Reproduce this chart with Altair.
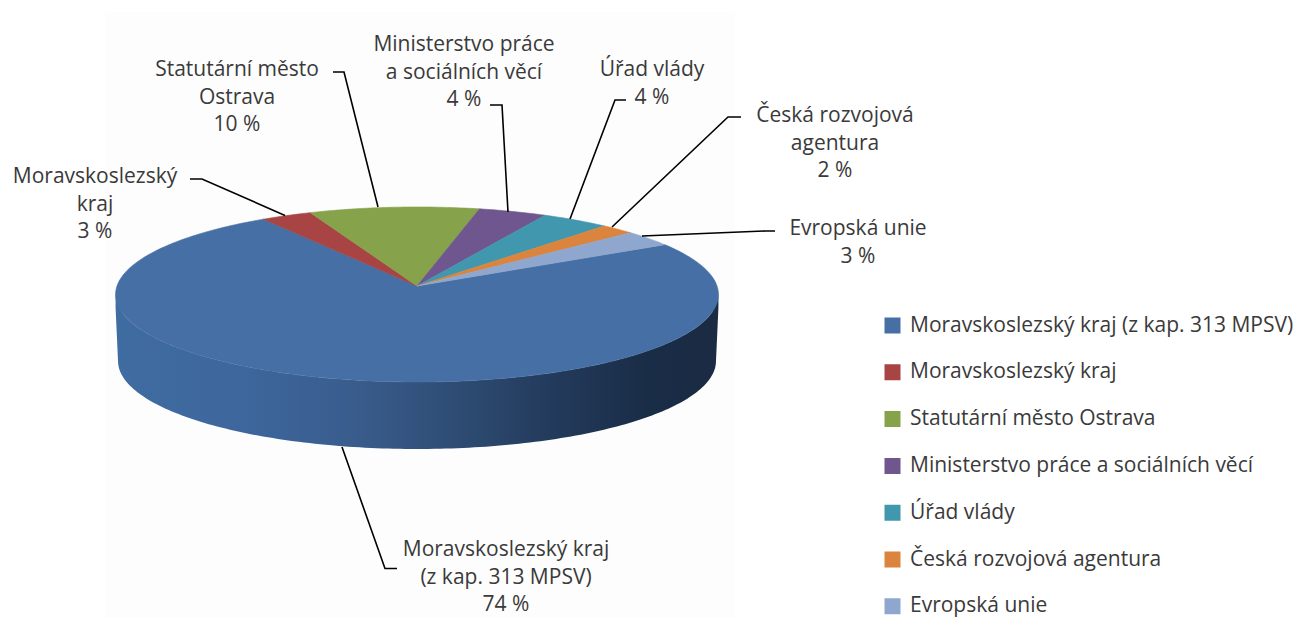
import math
import altair as alt
import pandas as pd

# ---- chart values ----
NAMES = ["Moravskoslezský kraj (z kap. 313 MPSV)", "Moravskoslezský kraj", "Statutární město Ostrava",
         "Ministerstvo práce a sociálních věcí", "Úřad vlády", "Česká rozvojová agentura", "Evropská unie"]
SHARES = [74, 3, 10, 4, 4, 2, 3]
COLORS = ["#4670A5", "#A84544", "#86A24A", "#6F568F", "#4097AE", "#DB843D", "#8FA7CE"]
LABELS = ["Moravskoslezský kraj\n(z kap. 313 MPSV)\n74 %", "Moravskoslezský\nkraj\n3 %",
          "Statutární město\nOstrava\n10 %", "Ministerstvo práce\na sociálních věcí\n4 %",
          "Úřad vlády\n4 %", "Česká rozvojová\nagentura\n2 %", "Evropská unie\n3 %"]

# ---- layout (reference pixels) ----
FONT = "Open Sans"
FS = 21
CX, APEX_Y, A, B, K = 417.0, 286.0, 300.0, 86.7, 0.097
START_DEG = 60.0
LABEL_X = [506, 95, 237, 464, 652, 835, 858]
LABEL_Y = [556, 183, 76, 51, 76, 122, 235]
LEADERS = [
    [(342, 447), (385, 568.5), (397, 568.5)],
    [(190, 179), (202, 179), (285, 215.5)],
    [(333, 72), (344, 72), (378, 207)],
    [(490, 105), (502, 105), (508, 212)],
    [(626, 100), (615, 100), (570, 219)],
    [(741, 117), (728, 117), (612, 227)],
    [(775, 231), (765, 231), (642, 236)],
]


def project(deg):
    t = math.radians(deg)
    u, v = math.sin(t), -math.cos(t)
    w = 1 - K * v
    return CX + A * u / w, APEX_Y + B * v / w


# top-surface wedges, from the shares
rows = []
a = START_DEG
for name, share in zip(NAMES, SHARES):
    span = share * 3.6
    n = max(3, int(span))
    rows.append({"name": name, "i": -1, "x": CX, "y": APEX_Y})
    for j in range(n + 1):
        x, y = project(a + span * j / n)
        rows.append({"name": name, "i": j, "x": x, "y": y})
    rows.append({"name": name, "i": n + 1, "x": CX, "y": APEX_Y})
    a += span
wedges = pd.DataFrame(rows)

# wall below the front rim
wall = []
for d in range(84, 277):
    x, y = project(d)
    dx = abs(x - CX)
    if dx < 299:
        y2 = 361 + 88 * math.sqrt(1 - (dx / 299) ** 2)
    else:
        y2 = 361 - (dx - 299) / 3 * 66
    wall.append({"x": x, "y": y, "yb": y2})
wall = pd.DataFrame(wall).sort_values("x").reset_index(drop=True)

X = alt.X("x:Q", scale=alt.Scale(domain=[8, 1295]), axis=None)
Y = alt.Y("y:Q", scale=alt.Scale(domain=[618, 8]), axis=None)

bg = alt.Chart(pd.DataFrame([{"x": 105, "x2": 735, "y": 12, "y2": 618}])).mark_rect(color="#FDFDFD").encode(
    x=X, x2="x2:Q", y=Y, y2="y2:Q")

wall_mark = alt.Chart(wall).mark_area(
    fill=alt.Gradient(
        gradient="linear", x1=0, x2=1, y1=0, y2=0,
        stops=[alt.GradientStop(offset=0, color="#3F6CA1"),
               alt.GradientStop(offset=0.22, color="#3D669C"),
               alt.GradientStop(offset=0.4, color="#395C8C"),
               alt.GradientStop(offset=0.55, color="#2F4E76"),
               alt.GradientStop(offset=0.72, color="#233B5C"),
               alt.GradientStop(offset=0.88, color="#1A2D47"),
               alt.GradientStop(offset=1, color="#1A2B42")])
).encode(x=X, y=Y, y2="yb:Q")

top = alt.Chart(wedges).mark_line(strokeWidth=0.6, strokeJoin="round", interpolate="linear").encode(
    x=X, y=Y,
    order=alt.Order("i:Q"),
    fill=alt.Fill("name:N", sort=NAMES, scale=alt.Scale(domain=NAMES, range=COLORS),
                  legend=alt.Legend(title=None, orient="none", legendX=874, legendY=305, symbolType="square",
                                    symbolSize=256, symbolStrokeWidth=0, labelFont=FONT, labelFontSize=FS,
                                    labelColor="#3A3A3A", labelLimit=500, rowPadding=21.8, labelOffset=7,
                                    padding=0, clipHeight=25)),
    stroke=alt.Stroke("name:N", sort=NAMES, scale=alt.Scale(domain=NAMES, range=COLORS), legend=None),
)

lrows = []
for k, pts in enumerate(LEADERS):
    for i, (x, y) in enumerate(pts):
        lrows.append({"k": k, "i": i, "x": x, "y": y})
leaders = alt.Chart(pd.DataFrame(lrows)).mark_line(color="#000000", strokeWidth=1.6).encode(
    x=X, y=Y, detail="k:N", order=alt.Order("i:Q"))

labels = alt.Chart(pd.DataFrame({"x": LABEL_X, "y": LABEL_Y, "t": LABELS})).mark_text(
    font=FONT, fontSize=FS, color="#3A3A3A", align="center", baseline="alphabetic",
    lineBreak="\n", lineHeight=27.7).encode(x=X, y=Y, text="t:N")

chart = alt.layer(bg, wall_mark, top, leaders, labels).properties(
    width=1287, height=610, padding=0, autosize=alt.AutoSizeParams(type="none"), background="white"
).configure_view(stroke=None)

chart.save("out.html", embed_options={"renderer": "svg", "actions": False})
